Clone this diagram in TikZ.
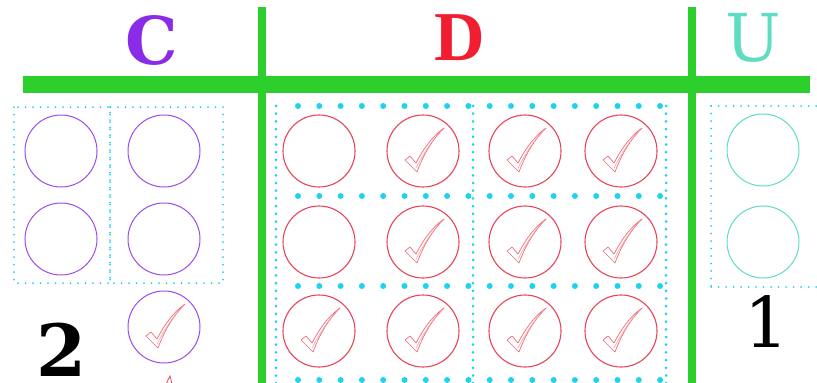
\documentclass[tikz,border=0pt]{standalone}
\usepackage{fontspec}
\setmainfont{DejaVu Serif}
\newfontfamily\dvbold{DejaVu Serif Bold}
\newfontfamily\libbold{Liberation Serif Bold}
\definecolor{grn}{HTML}{2CCF2C}
\definecolor{cyd}{HTML}{1FD3F0}
\definecolor{purp}{HTML}{9B4DEB}
\definecolor{purpt}{HTML}{8A2BE8}
\definecolor{redc}{HTML}{E8455A}
\definecolor{redt}{HTML}{F01E30}
\definecolor{chk}{HTML}{F06A7A}
\definecolor{teal}{HTML}{5EDDC3}
\tikzset{
  bar/.style={grn, line width=17pt},
  vbar/.style={grn, line width=8pt},
  bigdots/.style={cyd, line width=6pt, line cap=round, dash pattern=on 0pt off 21.3pt},
  smalldots/.style={cyd, line width=3pt, line cap=round, dash pattern=on 0pt off 7.7pt},
  boxdots/.style={cyd, line width=2pt, line cap=round, dash pattern=on 0pt off 7.5pt},
  ccirc/.style={circle, draw=purp, line width=1pt, minimum size=72pt, inner sep=0pt},
  dcirc/.style={circle, draw=redc, line width=1.1pt, minimum size=72pt, inner sep=0pt},
  ucirc/.style={circle, draw=teal, line width=1pt, minimum size=72pt, inner sep=0pt},
  tick/.pic={
    \draw[chk, line width=0.7pt, fill=white, line join=round]
      (-18,9) -- (-13,5) -- (-7,12) .. controls (2,-5) and (10,-15) .. (21,-23)
      .. controls (8,-10) and (0,5) .. (-6,21) -- cycle;
    \draw[chk!70, line width=0.5pt] (-7,17) .. controls (2,0) and (10,-12) .. (19,-21);
  }
}
\begin{document}
\begin{tikzpicture}[x=1pt,y=-1pt]
\useasboundingbox (0,0) rectangle (817,383);
% headings
\node (hC) at (152,40) {\dvbold\fontsize{66}{66}\selectfont\color{purpt}C};
\node (hD) at (460,38) {\libbold\fontsize{70}{70}\selectfont\color{redt}D};
\node (hU) at (753,38) {\fontsize{66}{66}\selectfont\color{teal}U};
\node (n2) at (62,350) {\dvbold\fontsize{72}{72}\selectfont 2};
\node (n1) at (767,322) {\fontsize{70}{70}\selectfont 1};
% green frame
\draw[bar] (23,84.5) -- (810,84.5);
\draw[vbar] (262,7) -- (262,383);
\draw[vbar] (692,7) -- (692,383);
% C boxes
\draw[boxdots] (14,107) rectangle (110,283);
\draw[boxdots] (110,107) rectangle (223,283);
% U box
\draw[boxdots] (711,106) -- (830,106);
\draw[boxdots] (711,287) -- (830,287);
\draw[boxdots] (711,106) -- (711,287);
% D grid
\foreach \y in {106,196,286,380} \draw[bigdots] (298,\y) -- (670,\y);
\foreach \x in {276,473,666} \draw[smalldots] (\x,106) -- (\x,386);
% C circles
\node[ccirc] (c11) at (61,151) {};
\node[ccirc] (c12) at (164,151) {};
\node[ccirc] (c21) at (61,239) {};
\node[ccirc] (c22) at (164,239) {};
\node[ccirc] (c3) at (164,327) {};
\pic at (c3) {tick};
% D circles
\foreach \r/\y in {1/151,2/242,3/331}{
  \foreach \c/\x in {1/319,2/423,3/525,4/621}{
    \node[dcirc] (d\r\c) at (\x,\y) {};
  }
}
\foreach \n in {d12,d13,d14,d22,d23,d24,d31,d32,d33,d34} \pic at (\n) {tick};
% U circles
\node[ucirc] (u1) at (763,150) {};
\node[ucirc] (u2) at (763,242) {};
% red tip at bottom
\draw[redc, line width=0.8pt] (166,384) -- (170,376) -- (172,384);
\end{tikzpicture}
\end{document}
